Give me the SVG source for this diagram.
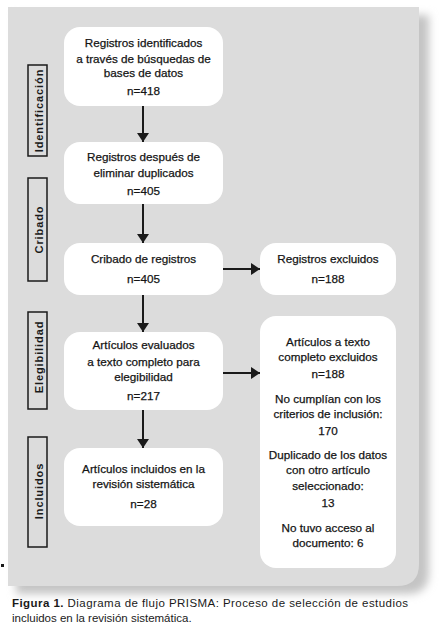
<svg xmlns="http://www.w3.org/2000/svg" width="446" height="634" viewBox="0 0 446 634">
<style>
.node{fill:#ffffff}
.t{font-family:"Liberation Sans",Arial,sans-serif;font-size:11.7px;fill:#141414;stroke:#141414;stroke-width:0.25px;text-anchor:middle}
.lab{fill:none;stroke:#1a1a1a;stroke-width:1.5}
.lt{font-family:"Liberation Sans",Arial,sans-serif;font-size:11px;font-weight:bold;letter-spacing:0.9px;fill:#1a1a1a;text-anchor:middle}
.arr{stroke:#1a1a1a;stroke-width:2;fill:none;marker-end:url(#ah)}
.cap{font-family:"Liberation Sans",Arial,sans-serif;font-size:11.5px;fill:#1a1a1a}
</style>
<defs>
<marker id="ah" markerUnits="userSpaceOnUse" markerWidth="9" markerHeight="12" refX="9" refY="6" orient="auto" viewBox="0 0 9 12">
<path d="M0,0 L9,6 L0,12 Z" fill="#1a1a1a"/>
</marker>
<filter id="blur" x="-10%" y="-10%" width="120%" height="120%">
<feGaussianBlur stdDeviation="4"/>
</filter>
</defs>
<rect width="446" height="634" fill="#ffffff"/>
<g id="panel">
<path d="M16,15 H429 V572 Q429,594 407,594 H16 Z" fill="#c4c4c4" filter="url(#blur)"/>
<path d="M8,7 H419 V564 Q419,586 397,586 H8 Z" fill="#dcdcdc"/>
<rect x="1" y="564" width="3" height="3" fill="#1a1a1a"/>
</g>
<g id="connectors">
<line class="arr" x1="143" y1="106" x2="143" y2="142"/>
<line class="arr" x1="143" y1="204" x2="143" y2="243"/>
<line class="arr" x1="143" y1="295" x2="143" y2="332"/>
<line class="arr" x1="143" y1="410" x2="143" y2="448"/>
<line class="arr" x1="223" y1="269" x2="260" y2="269"/>
<line class="arr" x1="223" y1="373" x2="260" y2="373"/>
</g>
<g id="label-identificacion">
<rect class="lab" x="28" y="65" width="19" height="91"/>
<text class="lt" transform="translate(42.5,110.5) rotate(-90)">Identificación</text>
</g>
<g id="label-cribado">
<rect class="lab" x="28" y="178" width="19" height="103"/>
<text class="lt" transform="translate(42.5,229.5) rotate(-90)">Cribado</text>
</g>
<g id="label-elegibilidad">
<rect class="lab" x="28" y="312" width="19" height="97"/>
<text class="lt" transform="translate(42.5,357) rotate(-90)">Elegibilidad</text>
</g>
<g id="label-incluidos">
<rect class="lab" x="28" y="437" width="19" height="110"/>
<text class="lt" transform="translate(42.5,491) rotate(-90)">Incluidos</text>
</g>
<g id="n1">
<rect class="node" x="64" y="27" width="159" height="79" rx="16"/>
<text class="t" x="143.5" y="47">Registros identificados</text>
<text class="t" x="143.5" y="63">a través de búsquedas de</text>
<text class="t" x="143.5" y="77">bases de datos</text>
<text class="t" x="143.5" y="95">n=418</text>
</g>
<g id="n2">
<rect class="node" x="64" y="142" width="159" height="62" rx="16"/>
<text class="t" x="143.5" y="161">Registros después de</text>
<text class="t" x="143.5" y="177">eliminar duplicados</text>
<text class="t" x="143.5" y="195">n=405</text>
</g>
<g id="n3">
<rect class="node" x="64" y="243" width="159" height="52" rx="16"/>
<text class="t" x="143.5" y="263">Cribado de registros</text>
<text class="t" x="143.5" y="283">n=405</text>
</g>
<g id="n3x">
<rect class="node" x="260" y="243" width="136" height="52" rx="16"/>
<text class="t" x="328" y="263">Registros excluidos</text>
<text class="t" x="328" y="283">n=188</text>
</g>
<g id="n4">
<rect class="node" x="64" y="332" width="159" height="78" rx="16"/>
<text class="t" x="143.5" y="349">Artículos evaluados</text>
<text class="t" x="143.5" y="366">a texto completo para</text>
<text class="t" x="143.5" y="381">elegibilidad</text>
<text class="t" x="143.5" y="400">n=217</text>
</g>
<g id="n4x">
<rect class="node" x="260" y="316" width="136" height="252" rx="16"/>
<text class="t" x="328" y="346">Artículos a texto</text>
<text class="t" x="328" y="361">completo excluidos</text>
<text class="t" x="328" y="378">n=188</text>
<text class="t" x="328" y="403">No cumplían con los</text>
<text class="t" x="328" y="418">criterios de inclusión:</text>
<text class="t" x="328" y="435">170</text>
<text class="t" x="328" y="459">Duplicado de los datos</text>
<text class="t" x="328" y="474">con otro artículo</text>
<text class="t" x="328" y="490">seleccionado:</text>
<text class="t" x="328" y="507">13</text>
<text class="t" x="328" y="532">No tuvo acceso al</text>
<text class="t" x="328" y="547">documento: 6</text>
</g>
<g id="n5">
<rect class="node" x="64" y="448" width="159" height="78" rx="16"/>
<text class="t" x="143.5" y="473">Artículos incluidos en la</text>
<text class="t" x="143.5" y="488">revisión sistemática</text>
<text class="t" x="143.5" y="508">n=28</text>
</g>
<g id="caption">
<text class="cap" x="12" y="607" textLength="396" lengthAdjust="spacing"><tspan font-weight="bold">Figura 1.</tspan> Diagrama de flujo PRISMA: Proceso de selección de estudios</text>
<text class="cap" x="12" y="622">incluidos en la revisión sistemática.</text>
</g>
</svg>
